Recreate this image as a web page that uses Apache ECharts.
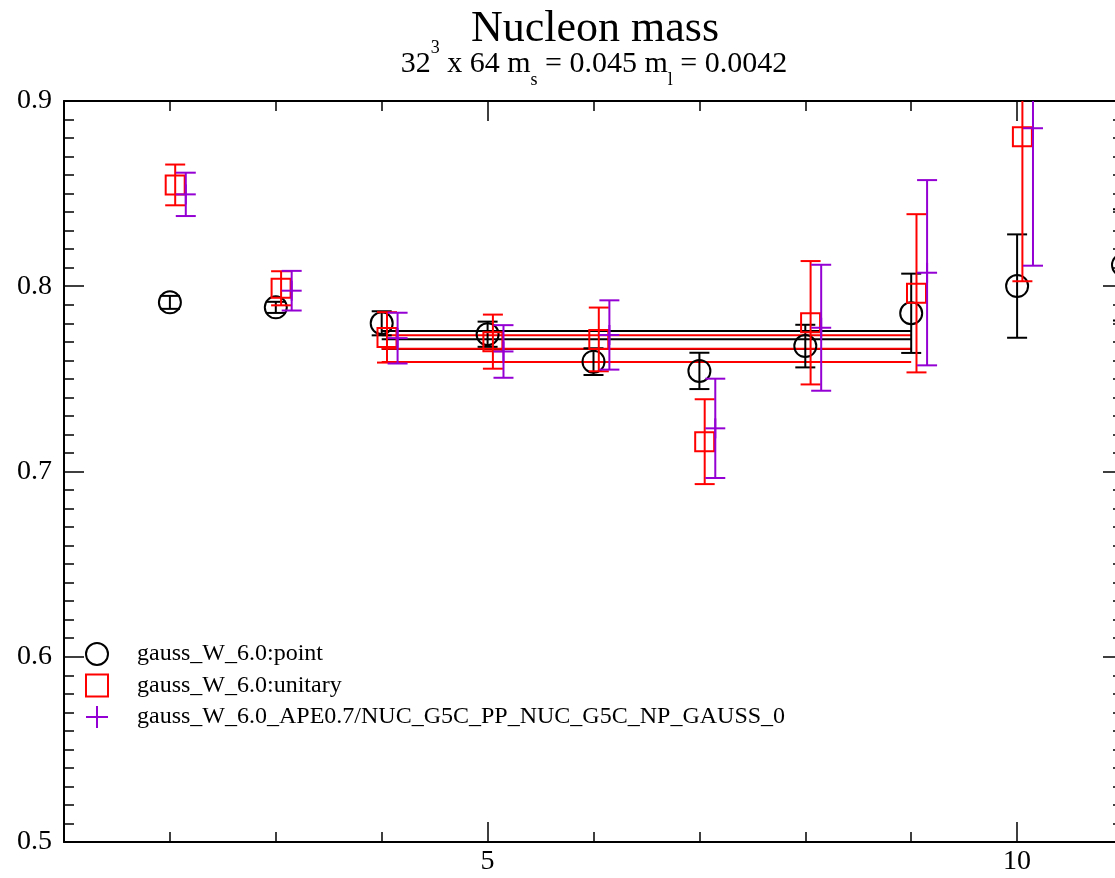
<!DOCTYPE html>
<html><head><meta charset="utf-8">
<script src="https://cdn.jsdelivr.net/npm/echarts@6/dist/echarts.min.js"></script>
<style>html,body{margin:0;padding:0;background:#fff}#c{width:1115px;height:878px}</style>
</head><body><div id="c"></div>
<script>
// ---- data ----
const titleText = 'Nucleon mass';
const subtitleText = '32{sup|3} x 64 m{sub|s} = 0.045 m{sub|l} = 0.0042';
const seriesNames = ['gauss_W_6.0:point', 'gauss_W_6.0:unitary', 'gauss_W_6.0_APE0.7/NUC_G5C_PP_NUC_G5C_NP_GAUSS_0'];

const xPoint = [2, 3, 4, 5, 6, 7, 8, 9, 10, 11];
const yPoint = [0.7913, 0.7886, 0.7800, 0.7741, 0.7593, 0.7543, 0.7677, 0.7854, 0.8001, 0.8115];
const ePoint = [0.0035, 0.0030, 0.0065, 0.0068, 0.0072, 0.0098, 0.0115, 0.0214, 0.0279, 0.0300];

const xUnitary = [2.05, 3.05, 4.05, 5.05, 6.05, 7.05, 8.05, 9.05, 10.05];
const yUnitary = [0.8547, 0.7989, 0.7724, 0.7701, 0.7713, 0.7161, 0.7803, 0.7962, 0.8807];
const eUnitary = [0.0110, 0.0092, 0.0136, 0.0146, 0.0172, 0.0229, 0.0333, 0.0427, 0.0780];

const xApe = [2.15, 3.15, 4.15, 5.15, 6.15, 7.15, 8.15, 9.15, 10.15];
const yApe = [0.8496, 0.7976, 0.7720, 0.7648, 0.7737, 0.7233, 0.7776, 0.8073, 0.8853];
const eApe = [0.0117, 0.0107, 0.0137, 0.0142, 0.0187, 0.0268, 0.0340, 0.0500, 0.0742];

const fitRange = [4, 9];
const fitPointLevels = [0.7758, 0.7714, 0.7661];
const fitUnitaryLevels = [0.7735, 0.7663, 0.7591];

const xMajorTicks = [5, 10];
const xMinorTicks = [2, 3, 4, 6, 7, 8, 9];

// ---- styling ----
const FONT = 'Liberation Serif';
const COLORS = ['#000000', '#ff0000', '#9400d3'];

function errSeries(name, color, xs, ys, es, marker) {
  return {
    type: 'custom', name: name, xAxisIndex: 0, yAxisIndex: 0, clip: true, z: 5,
    itemStyle: { color: color },
    encode: { x: 0, y: 1 },
    data: xs.map((x, i) => [x, ys[i], es[i]]),
    renderItem: function (params, api) {
      const x = api.value(0), y = api.value(1), e = api.value(2);
      const c = api.coord([x, y]);
      const t = api.coord([x, y + e]);
      const b = api.coord([x, y - e]);
      const st = { stroke: color, lineWidth: 2, fill: 'none' };
      const ch = [
        { type: 'line', shape: { x1: c[0], y1: t[1], x2: c[0], y2: b[1] }, style: st },
        { type: 'line', shape: { x1: c[0] - 10, y1: t[1], x2: c[0] + 10, y2: t[1] }, style: st },
        { type: 'line', shape: { x1: c[0] - 10, y1: b[1], x2: c[0] + 10, y2: b[1] }, style: st }
      ];
      if (marker === 'circle') {
        ch.push({ type: 'circle', shape: { cx: c[0], cy: c[1], r: 11 }, style: st });
      } else if (marker === 'square') {
        ch.push({ type: 'rect', shape: { x: c[0] - 9.5, y: c[1] - 9.5, width: 19, height: 19 }, style: st });
      } else {
        ch.push({ type: 'line', shape: { x1: c[0] - 10, y1: c[1], x2: c[0] + 10, y2: c[1] }, style: st });
        ch.push({ type: 'line', shape: { x1: c[0], y1: c[1] - 10, x2: c[0], y2: c[1] + 10 }, style: st });
      }
      return { type: 'group', children: ch };
    }
  };
}

function fitSeries(levels, color) {
  return levels.map(v => ({
    type: 'line', xAxisIndex: 0, yAxisIndex: 0, silent: true, symbol: 'none', z: 3,
    lineStyle: { color: color, width: 2 },
    data: [[fitRange[0], v], [fitRange[1], v]]
  }));
}

const tickStyle = { color: '#000', width: 1.5 };
function xAx(pos, major) {
  return {
    type: 'value', position: pos, min: 1, max: 11, interval: 1,
    axisLine: { show: !major, onZero: false, lineStyle: { color: '#000', width: 2 } },
    axisTick: major ? { show: true, inside: true, length: 20, customValues: xMajorTicks, lineStyle: tickStyle }
                    : { show: true, inside: true, length: 10, customValues: xMinorTicks, lineStyle: tickStyle },
    axisLabel: (major && pos === 'bottom') ? { show: true, customValues: xMajorTicks, fontFamily: FONT, fontSize: 28, color: '#000', margin: 6 } : { show: false },
    splitLine: { show: false }
  };
}
function yAx(pos) {
  return {
    type: 'value', position: pos, min: 0.5, max: 0.9, interval: 0.1,
    axisLine: { show: true, onZero: false, lineStyle: { color: '#000', width: 2 } },
    axisTick: { show: true, inside: true, length: 20, lineStyle: tickStyle },
    minorTick: { show: true, splitNumber: 10, length: 10, lineStyle: tickStyle },
    axisLabel: pos === 'left' ? { show: true, fontFamily: FONT, fontSize: 28, color: '#000', margin: 12,
      showMinLabel: true, showMaxLabel: true, formatter: v => v.toFixed(1) } : { show: false },
    splitLine: { show: false }
  };
}

const chart = echarts.init(document.getElementById('c'), null, { renderer: 'canvas' });
chart.setOption({
  backgroundColor: '#fff',
  animation: false,
  title: [
    { text: titleText, left: 590, textAlign: 'center', top: 0,
      textStyle: { fontFamily: FONT, fontSize: 44, fontWeight: 'normal', color: '#000', lineHeight: 48 } },
    { text: subtitleText, left: 589, textAlign: 'center', top: 34,
      textStyle: { fontFamily: FONT, fontSize: 30, fontWeight: 'normal', color: '#000', lineHeight: 50,
        rich: {
          sup: { fontFamily: FONT, fontSize: 18, color: '#000', verticalAlign: 'top', lineHeight: 18 },
          sub: { fontFamily: FONT, fontSize: 18, color: '#000', verticalAlign: 'bottom', lineHeight: 18 }
        } } }
  ],
  grid: { left: 64, top: 101, width: 1059, height: 741, containLabel: false, outerBoundsMode: 'none' },
  xAxis: [xAx('bottom', false), xAx('bottom', true), xAx('top', false), xAx('top', true)],
  yAxis: [yAx('left'), yAx('right')],
  legend: {
    orient: 'vertical', left: 85, top: 642, padding: 0, itemWidth: 22, itemHeight: 22, itemGap: 7.5,
    selectedMode: false,
    textStyle: { fontFamily: FONT, fontSize: 24, color: '#000', lineHeight: 22, padding: [0, 0, 0, 24] },
    data: [
      { name: seriesNames[0], icon: 'circle', itemStyle: { color: 'rgba(0,0,0,0)', borderColor: COLORS[0], borderWidth: 2 } },
      { name: seriesNames[1], icon: 'rect', itemStyle: { color: 'rgba(0,0,0,0)', borderColor: COLORS[1], borderWidth: 2 } },
      { name: seriesNames[2], icon: 'path://M0,11L22,11M11,0L11,22', itemStyle: { color: 'rgba(0,0,0,0)', borderColor: COLORS[2], borderWidth: 2 } }
    ]
  },
  series: [
    ...fitSeries(fitPointLevels, COLORS[0]),
    ...fitSeries(fitUnitaryLevels, COLORS[1]),
    errSeries(seriesNames[0], COLORS[0], xPoint, yPoint, ePoint, 'circle'),
    errSeries(seriesNames[1], COLORS[1], xUnitary, yUnitary, eUnitary, 'square'),
    errSeries(seriesNames[2], COLORS[2], xApe, yApe, eApe, 'plus')
  ]
});
</script></body></html>
